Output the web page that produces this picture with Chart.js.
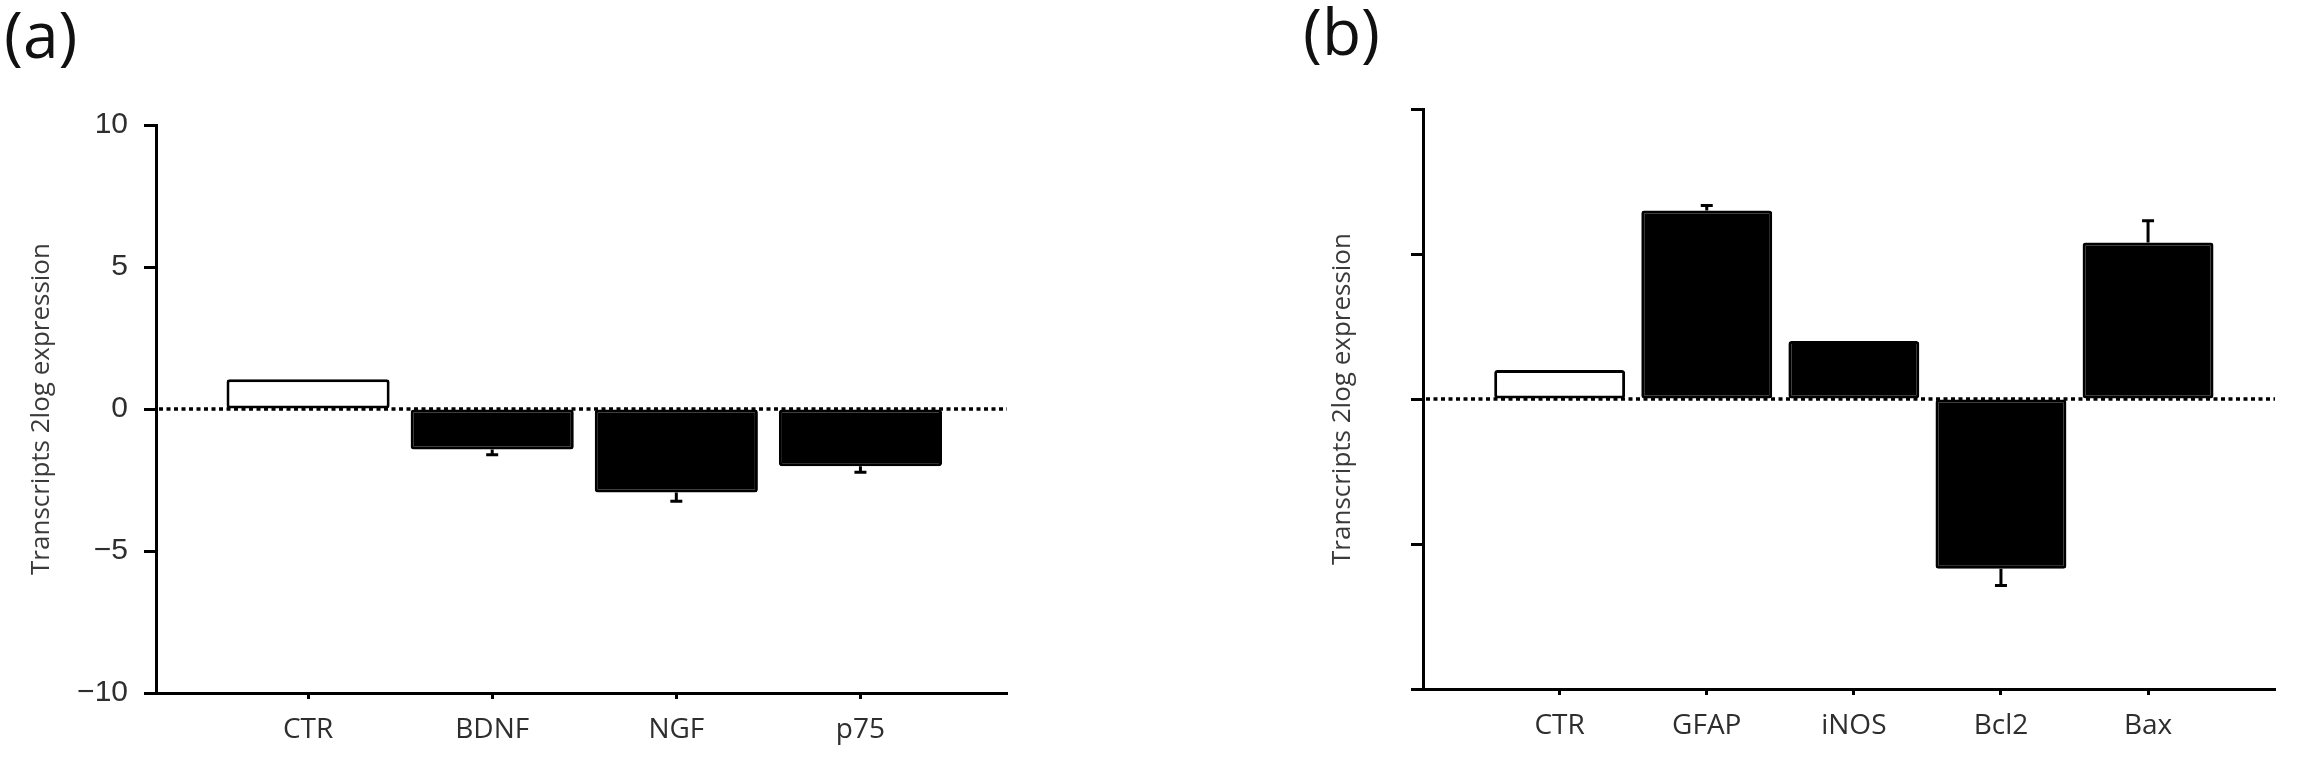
<!DOCTYPE html>
<html><head><meta charset="utf-8">
<script src="https://cdn.jsdelivr.net/npm/chart.js@4.4.1/dist/chart.umd.min.js"></script>
<style>
html,body{margin:0;padding:0;background:#fff;width:2299px;height:757px;overflow:hidden;position:relative}
canvas{position:absolute;top:0}
#ca{left:0}
#cb{left:1150px}
.pl{position:absolute;font-family:'Open Sans';font-size:64px;color:#111;line-height:1;white-space:nowrap}
</style></head><body>
<div class="pl" style="left:4px;top:2px">(a)</div>
<div class="pl" style="left:1303px;top:-1px">(b)</div>
<canvas id="ca" width="1150" height="757"></canvas>
<canvas id="cb" width="1149" height="757"></canvas>
<script>
// ---- data ----
const catsA = ['CTR', 'BDNF', 'NGF', 'p75'];
const valsA = [1.05, -1.43, -2.94, -2.02];
const errA  = [0, 0.18, 0.31, 0.21];
const fillA = ['#ffffff', '#000000', '#000000', '#000000'];

const catsB = ['CTR', 'GFAP', 'iNOS', 'Bcl2', 'Bax'];
const valsB = [1.0, 6.5, 2.0, -5.85, 5.4];
const errB  = [0, 0.17, 0, 0.58, 0.75];
const fillB = ['#ffffff', '#000000', '#000000', '#000000', '#000000'];

const yTicks = [-10, -5, 0, 5, 10];
const yTitle = 'Transcripts 2log expression';

// ---- plugin: dotted zero line + one-sided error bars ----
const extras = {
  id: 'extras',
  beforeDatasetsDraw(chart) {
    const {ctx, chartArea, scales: {y}} = chart;
    const y0 = y.getPixelForValue(0);
    ctx.save();
    ctx.strokeStyle = '#000';
    ctx.lineWidth = 3.5;
    ctx.setLineDash([4, 3.5]);
    ctx.beginPath();
    ctx.moveTo(chartArea.left + 3, y0);
    ctx.lineTo(chartArea.right, y0);
    ctx.stroke();
    ctx.restore();
  },
  afterDatasetsDraw(chart, args, opts) {
    const {ctx, scales: {y}} = chart;
    const meta = chart.getDatasetMeta(0);
    const ds = chart.data.datasets[0];
    ctx.save();
    ctx.strokeStyle = '#000';
    ctx.lineWidth = 3;
    meta.data.forEach((bar, i) => {
      const e = opts.errors[i];
      if (!e) return;
      const v = ds.data[i].y;
      const s = v >= 0 ? 1 : -1;
      const p1 = y.getPixelForValue(v);
      const p2 = y.getPixelForValue(v + s * e);
      ctx.beginPath();
      ctx.moveTo(bar.x, p1); ctx.lineTo(bar.x, p2);
      ctx.moveTo(bar.x - 6, p2); ctx.lineTo(bar.x + 6, p2);
      ctx.stroke();
    });
    ctx.restore();
  }
};

function makeChart(id, cats, vals, errs, fills, cfg) {
  return new Chart(document.getElementById(id), {
    type: 'bar',
    data: {
      datasets: [{
        data: vals.map((v, i) => ({x: i, y: v})),
        backgroundColor: fills,
        borderColor: '#000',
        borderWidth: 3,
        borderSkipped: false,
        borderRadius: 3,
        barPercentage: cfg.barPct,
        categoryPercentage: 1
      }]
    },
    options: {
      responsive: false,
      animation: false,
      devicePixelRatio: 1,
      layout: {padding: cfg.pad},
      plugins: {legend: {display: false}, tooltip: {enabled: false}, extras: {errors: errs}},
      scales: {
        x: {
          type: 'linear', min: cfg.xmin, max: cfg.xmax, offset: false,
          afterBuildTicks: s => { s.ticks = cats.map((c, i) => ({value: i})); },
          afterFit: s => { s.height = cfg.xh; },
          grid: {display: true, drawOnChartArea: false, drawTicks: true, tickLength: 6, tickWidth: 3, tickColor: '#000', offset: false},
          border: {display: true, color: '#000', width: 3},
          ticks: {
            callback: v => (cats[v] !== undefined ? cats[v] : ''),
            autoSkip: false, maxRotation: 0, minRotation: 0, padding: cfg.xpad,
            color: '#2e2e2e', font: {family: 'Open Sans', size: 28}
          }
        },
        y: {
          min: -10, max: 10,
          afterBuildTicks: s => { s.ticks = yTicks.map(v => ({value: v})); },
          afterFit: s => { s.width = cfg.yw; },
          grid: {drawOnChartArea: false, drawTicks: true, tickLength: 12, tickWidth: 3, tickColor: '#000'},
          border: {display: true, color: '#000', width: 3},
          ticks: {
            callback: cfg.ylab, padding: 16, color: '#2e2e2e',
            font: {family: 'Liberation Sans', size: 30}
          },
          title: {
            display: true, text: yTitle, color: '#3a3a3a',
            font: {family: 'Open Sans', size: 26},
            padding: {top: cfg.tpad, bottom: 0}
          }
        }
      }
    },
    plugins: [extras]
  });
}

makeChart('ca', catsA, valsA, errA, fillA, {
  barPct: 0.886, xmin: -0.826, xmax: 3.796,
  pad: {left: 0, top: 125, right: 143, bottom: 0},
  xh: 64, yw: 156, xpad: 14, tpad: 26,
  ylab: v => String(v).replace('-', '\u2212')
});

makeChart('cb', catsB, valsB, errB, fillB, {
  barPct: 0.89, xmin: -0.929, xmax: 4.863,
  pad: {left: 175, top: 109, right: 24, bottom: 0},
  xh: 68, yw: 98, xpad: 14, tpad: 2,
  ylab: v => ''
});
</script>
</body></html>
